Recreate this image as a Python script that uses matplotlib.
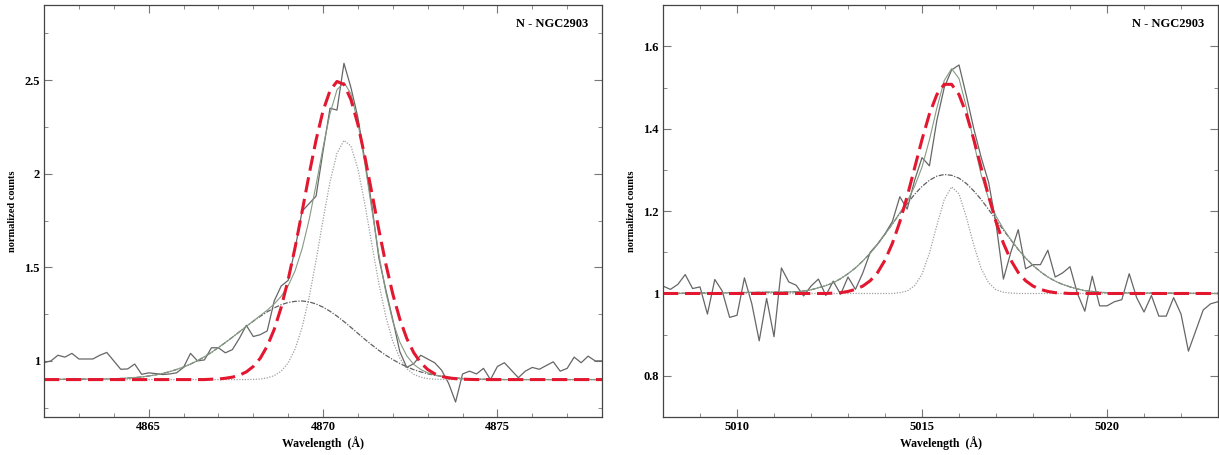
import numpy as np
import matplotlib
matplotlib.use("Agg")
from matplotlib import pyplot as plt
from matplotlib.ticker import MultipleLocator, FuncFormatter

plt.rcParams['font.family'] = ['Liberation Serif', 'DejaVu Serif']

# ---- left panel: 4862-4878 A ----
#observed spectrum, 0.2 A sampling
hb_wave = np.arange(81) * 0.2 + 4862.0
hb_flux = [0.990, 1.000, 1.030, 1.020, 1.040, 1.010, 1.010, 1.010, 1.030, 1.045,
           1.000, 0.955, 0.957, 0.983, 0.928, 0.936, 0.932, 0.927, 0.930, 0.936,
           0.965, 1.040, 1.000, 1.005, 1.070, 1.070, 1.043, 1.060, 1.120, 1.190,
           1.130, 1.140, 1.160, 1.320, 1.400, 1.430, 1.600, 1.800, 1.840, 1.880,
           2.120, 2.350, 2.340, 2.590, 2.460, 2.300, 2.070, 1.830, 1.550, 1.380,
           1.220, 1.050, 0.965, 0.985, 1.030, 1.010, 0.990, 0.950, 0.880, 0.780,
           0.930, 0.945, 0.930, 0.960, 0.900, 0.970, 0.990, 0.950, 0.910, 0.945,
           0.965, 0.955, 0.975, 0.995, 0.945, 0.960, 1.020, 0.990, 1.025, 1.000,
           1.000]

#fit curves: first and last points are the panel edges, the rest 4864.0-4876.0 every 0.2
hb_fit_wave = np.concatenate(([4862.0], np.arange(61) * 0.2 + 4864.0, [4878.0]))
hb_broad = [0.901,
            0.904, 0.906, 0.908, 0.911, 0.914, 0.919, 0.925, 0.933, 0.942, 0.954,
            0.967, 0.983, 1.001, 1.022, 1.045, 1.071, 1.098, 1.126, 1.155, 1.184,
            1.212, 1.238, 1.262, 1.283, 1.300, 1.312, 1.318, 1.320, 1.315, 1.304,
            1.287, 1.265, 1.239, 1.210, 1.179, 1.147, 1.115, 1.085, 1.056, 1.030,
            1.007, 0.986, 0.968, 0.953, 0.941, 0.931, 0.923, 0.917, 0.912, 0.909,
            0.906, 0.904, 0.903, 0.902, 0.901, 0.901, 0.900, 0.900, 0.900, 0.900,
            0.900,
            0.900]
hb_narrow = [0.900,
             0.900, 0.900, 0.900, 0.900, 0.900, 0.900, 0.900, 0.900, 0.900, 0.900,
             0.900, 0.900, 0.900, 0.900, 0.900, 0.900, 0.900, 0.900, 0.900, 0.900,
             0.901, 0.903, 0.909, 0.921, 0.945, 0.989, 1.064, 1.179, 1.338, 1.536,
             1.753, 1.956, 2.109, 2.178, 2.148, 2.026, 1.838, 1.622, 1.413, 1.237,
             1.104, 1.015, 0.959, 0.928, 0.913, 0.905, 0.902, 0.901, 0.900, 0.900,
             0.900, 0.900, 0.900, 0.900, 0.900, 0.900, 0.900, 0.900, 0.900, 0.900,
             0.900,
             0.900]
hb_sum = [0.901,
          0.904, 0.906, 0.908, 0.911, 0.914, 0.919, 0.925, 0.933, 0.942, 0.954,
          0.967, 0.983, 1.001, 1.022, 1.045, 1.071, 1.098, 1.126, 1.155, 1.184,
          1.213, 1.242, 1.271, 1.304, 1.345, 1.401, 1.482, 1.599, 1.753, 1.940,
          2.140, 2.321, 2.448, 2.488, 2.427, 2.273, 2.053, 1.807, 1.569, 1.367,
          1.211, 1.101, 1.027, 0.981, 0.954, 0.936, 0.925, 0.918, 0.912, 0.909,
          0.906, 0.904, 0.903, 0.902, 0.901, 0.901, 0.900, 0.900, 0.900, 0.900,
          0.900,
          0.900]
hb_single = [0.900,
             0.900, 0.900, 0.900, 0.900, 0.900, 0.900, 0.900, 0.900, 0.900, 0.900,
             0.900, 0.900, 0.900, 0.900, 0.902, 0.903, 0.907, 0.913, 0.923, 0.941,
             0.970, 1.014, 1.079, 1.168, 1.286, 1.434, 1.607, 1.798, 1.995, 2.180,
             2.336, 2.444, 2.493, 2.477, 2.396, 2.263, 2.090, 1.897, 1.701, 1.518,
             1.357, 1.224, 1.120, 1.044, 0.990, 0.954, 0.931, 0.917, 0.909, 0.905,
             0.902, 0.901, 0.900, 0.900, 0.900, 0.900, 0.900, 0.900, 0.900, 0.900,
             0.900,
             0.900]

# ---- right panel: 5008-5023 A ----
o3_wave = np.arange(76) * 0.2 + 5008.0
o3_flux = [1.018, 1.010, 1.022, 1.046, 1.012, 1.016, 0.950, 1.034, 1.006, 0.942,
           0.947, 1.038, 0.975, 0.885, 0.988, 0.895, 1.062, 1.028, 1.020, 0.994,
           1.018, 1.035, 0.995, 1.030, 0.998, 1.040, 1.010, 1.050, 1.100, 1.120,
           1.145, 1.175, 1.235, 1.205, 1.275, 1.330, 1.310, 1.420, 1.500, 1.543,
           1.555, 1.480, 1.400, 1.330, 1.270, 1.170, 1.035, 1.100, 1.155, 1.060,
           1.070, 1.070, 1.105, 1.040, 1.050, 1.065, 1.000, 0.957, 1.042, 0.970,
           0.970, 0.980, 0.985, 1.048, 0.990, 0.955, 0.995, 0.945, 0.945, 0.990,
           0.950, 0.860, 0.910, 0.960, 0.975, 0.980]

#edges plus 5011.6-5020.0 every 0.2
o3_fit_wave = np.concatenate(([5008.0], np.arange(43) * 0.2 + 5011.6, [5023.0]))
o3_broad = [1.000,
            1.004, 1.006, 1.009, 1.014, 1.019, 1.026, 1.036, 1.048, 1.062, 1.079,
            1.098, 1.120, 1.144, 1.169, 1.194, 1.218, 1.241, 1.260, 1.275, 1.285,
            1.289, 1.287, 1.280, 1.267, 1.249, 1.228, 1.204, 1.179, 1.154, 1.130,
            1.107, 1.086, 1.068, 1.053, 1.040, 1.030, 1.022, 1.016, 1.011, 1.007,
            1.005, 1.003, 1.002,
            1.000]
o3_narrow = [1.000,
             1.000, 1.000, 1.000, 1.000, 1.000, 1.000, 1.000, 1.000, 1.000, 1.000,
             1.000, 1.000, 1.000, 1.000, 1.002, 1.006, 1.019, 1.047, 1.098, 1.165,
             1.228, 1.259, 1.242, 1.185, 1.117, 1.060, 1.026, 1.009, 1.003, 1.001,
             1.000, 1.000, 1.000, 1.000, 1.000, 1.000, 1.000, 1.000, 1.000, 1.000,
             1.000, 1.000, 1.000,
             1.000]
o3_sum = [1.000,
          1.004, 1.006, 1.009, 1.014, 1.019, 1.026, 1.036, 1.048, 1.062, 1.079,
          1.098, 1.120, 1.144, 1.169, 1.196, 1.224, 1.260, 1.307, 1.373, 1.450,
          1.517, 1.546, 1.522, 1.452, 1.366, 1.288, 1.230, 1.188, 1.157, 1.131,
          1.107, 1.086, 1.068, 1.053, 1.040, 1.030, 1.022, 1.016, 1.011, 1.007,
          1.005, 1.003, 1.002,
          1.000]
o3_single = [1.000,
             1.000, 1.000, 1.000, 1.000, 1.000, 1.001, 1.002, 1.005, 1.010, 1.018,
             1.031, 1.051, 1.081, 1.122, 1.174, 1.236, 1.305, 1.374, 1.436, 1.483,
             1.508, 1.508, 1.483, 1.436, 1.374, 1.305, 1.236, 1.174, 1.122, 1.081,
             1.051, 1.031, 1.018, 1.010, 1.005, 1.002, 1.001, 1.000, 1.000, 1.000,
             1.000, 1.000, 1.000,
             1.000]


def draw_panel(ax, wave, flux, fit_wave, broad, narrow, total, single, xlim, ylim, xmaj, ymaj, ymin):
    ax.plot(wave, flux, color='#666666', lw=0.9)
    ax.plot(fit_wave, narrow, color='#a0a0a0', lw=0.9, dashes=(1, 1.2))
    ax.plot(fit_wave, broad, color='#606060', lw=0.9, dashes=(4, 1.2, 1, 1.2))
    ax.plot(fit_wave, total, color='#859a85', lw=0.8)
    ax.plot(fit_wave, single, color='#e3172f', lw=2.2, dashes=(5, 2.2))

    ax.set_xlim(xlim)
    ax.set_ylim(ylim)
    ax.xaxis.set_major_locator(MultipleLocator(xmaj))
    ax.xaxis.set_minor_locator(MultipleLocator(1))
    ax.yaxis.set_major_locator(MultipleLocator(ymaj))
    ax.yaxis.set_minor_locator(MultipleLocator(ymin))
    #tick labels like 1, 1.5, 2 (no trailing zeros)
    ax.yaxis.set_major_formatter(FuncFormatter(lambda v, p: '%g' % round(v, 3)))
    ax.xaxis.set_major_formatter(FuncFormatter(lambda v, p: '%d' % round(v)))
    ax.tick_params(which='both', direction='in', top=True, right=True,
                   color='#777777', labelsize=9, pad=3)
    ax.tick_params(which='major', length=6, width=0.8)
    ax.tick_params(which='minor', length=3, width=0.6)
    for lab in ax.get_xticklabels() + ax.get_yticklabels():
        lab.set_fontweight('bold')
    for sp in ax.spines.values():
        sp.set_color('#444444')
        sp.set_linewidth(0.9)

    ax.set_xlabel('Wavelength  (Å)', fontsize=8.5, fontweight='bold', labelpad=2)
    ax.set_ylabel('normalized counts', fontsize=7.5, fontweight='bold', labelpad=5)
    ax.text(0.975, 0.97, 'N - NGC2903', transform=ax.transAxes, ha='right', va='top',
            fontsize=9, fontweight='bold')


fig = plt.figure(figsize=(12.19, 4.55), dpi=100)
ax1 = fig.add_axes([0.0361, 0.0835, 0.4578, 0.9049])
ax2 = fig.add_axes([0.5439, 0.0835, 0.4553, 0.9049])

draw_panel(ax1, hb_wave, hb_flux, hb_fit_wave, hb_broad, hb_narrow, hb_sum, hb_single,
           (4862, 4878), (0.70, 2.90), 5, 0.5, 0.25)
draw_panel(ax2, o3_wave, o3_flux, o3_fit_wave, o3_broad, o3_narrow, o3_sum, o3_single,
           (5008, 5023), (0.70, 1.70), 5, 0.2, 0.1)

fig.savefig('out.png', dpi=100)
